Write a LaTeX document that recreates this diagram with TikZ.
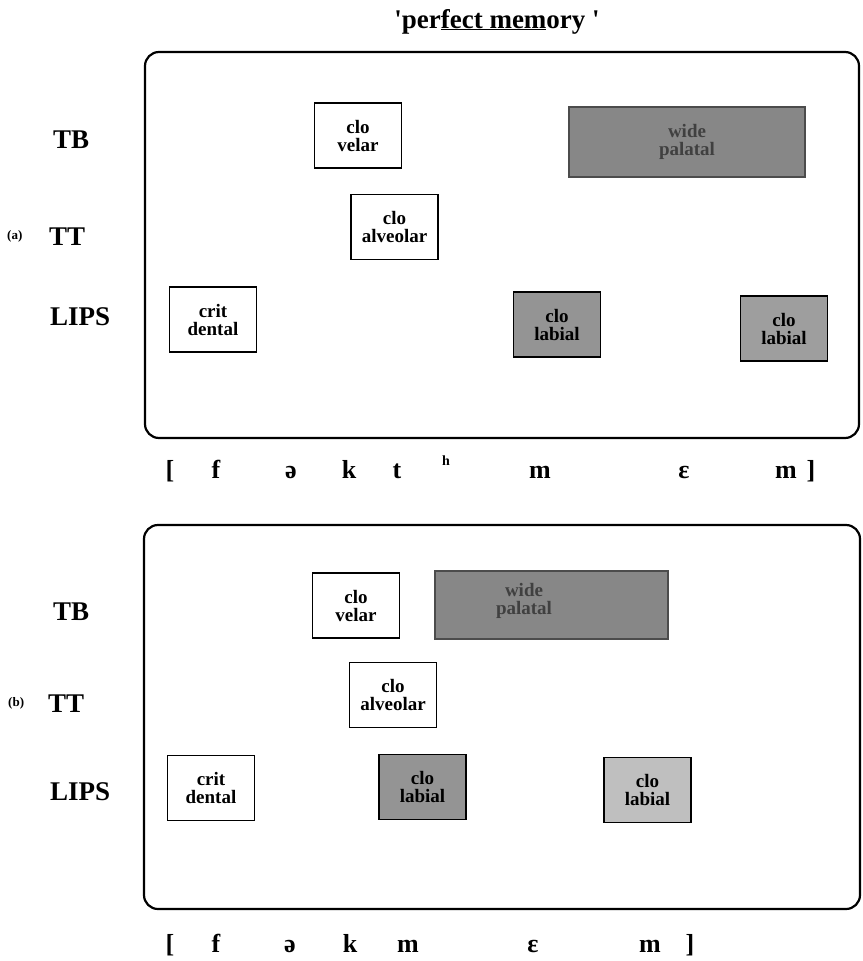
\documentclass[tikz,border=0pt]{standalone}
\usepackage{fontspec}
\setmainfont{Liberation Serif}

\begin{document}
\begin{tikzpicture}[
		x = 1pt,
		y = -1pt,
		every node/.style = {
			inner sep = 0pt,
			font = \bfseries\fontsize{26}{26}\selectfont,
		},
		panel/.style = {
			draw,
			line width = 2.2pt,
			rounded corners = 14pt,
		},
		gesture/.style = {
			shape = rectangle,
			draw,
			line width = 1.4pt,
			minimum width = 87pt,
			minimum height = 65pt,
			align = center,
			font = \bfseries\fontsize{19}{18}\selectfont,
		},
		palbox/.style = {
			gesture,
			fill = black!47,
			draw = black!70,
			minimum width = 236pt,
			minimum height = 70pt,
			text = black!75,
		},
		darkbox/.style = {
			gesture,
			fill = black!42,
		},
		lightbox/.style = {
			gesture,
			fill = black!25,
		},
		tier/.style = {
			anchor = base west,
			font = \bfseries\fontsize{27}{27}\selectfont,
		},
		tag/.style = {
			anchor = base west,
			font = \bfseries\fontsize{13}{13}\selectfont,
		},
		seg/.style = {
			anchor = base,
		},
	]
	\useasboundingbox (0, 0) rectangle (862, 961);

	\draw (497, 28) node (title) [anchor = base, font = \bfseries\fontsize{27}{27}\selectfont] {\textquotesingle per\underline{fect mem}ory \textquotesingle};

	\draw[panel] (145, 52) rectangle (859, 438);
	\draw (53, 148) node (tbA) [tier] {TB};
	\draw (49, 245) node (ttA) [tier] {TT};
	\draw (50, 325) node (lipsA) [tier] {LIPS};
	\draw (7, 239) node (tagA) [tag] {(a)};

	\draw (358, 135.5) node (velA) [gesture] {clo\\velar};
	\draw (687, 142) node (palA) [palbox] {wide\\palatal};
	\draw (394.5, 227) node (alvA) [gesture] {clo\\alveolar};
	\draw (213, 319.5) node (denA) [gesture] {crit\\dental};
	\draw (557, 324.5) node (labA1) [darkbox] {clo\\labial};
	\draw (784, 328.5) node (labA2) [darkbox, fill = black!38] {clo\\labial};

	\draw (170, 478) node (sA1) [seg] {[};
	\draw (216, 478) node (sA2) [seg] {f};
	\draw (291, 478) node (sA3) [seg] {ə};
	\draw (349, 478) node (sA4) [seg] {k};
	\draw (397, 478) node (sA5) [seg] {t};
	\draw (446, 465) node (sA6) [seg, font = \bfseries\fontsize{14}{14}\selectfont] {h};
	\draw (540, 478) node (sA7) [seg] {m};
	\draw (684, 478) node (sA8) [seg] {ε};
	\draw (786, 478) node (sA9) [seg] {m};
	\draw (811, 478) node (sA10) [seg] {]};

	\draw[panel] (144, 525) rectangle (860, 909);
	\draw (53, 620) node (tbB) [tier] {TB};
	\draw (48, 712) node (ttB) [tier] {TT};
	\draw (50, 800) node (lipsB) [tier] {LIPS};
	\draw (8, 706) node (tagB) [tag] {(b)};

	\draw (356, 605.5) node (velB) [gesture] {clo\\velar};
	\draw (551.5, 605) node (palB) [palbox, minimum width = 233pt, minimum height = 68pt] {};
	\draw (524, 601) node (palBt) [align = center, text = black!75, font = \bfseries\fontsize{19}{18}\selectfont] {wide\\palatal};
	\draw (393, 695) node (alvB) [gesture] {clo\\alveolar};
	\draw (211, 788) node (denB) [gesture] {crit\\dental};
	\draw (422.5, 787) node (labB1) [darkbox] {clo\\labial};
	\draw (647.5, 790) node (labB2) [lightbox] {clo\\labial};

	\draw (170, 952) node (sB1) [seg] {[};
	\draw (216, 952) node (sB2) [seg] {f};
	\draw (290, 952) node (sB3) [seg] {ə};
	\draw (350, 952) node (sB4) [seg] {k};
	\draw (408, 952) node (sB5) [seg] {m};
	\draw (533, 952) node (sB6) [seg] {ε};
	\draw (650, 952) node (sB7) [seg] {m};
	\draw (690, 952) node (sB8) [seg] {]};
\end{tikzpicture}
\end{document}
